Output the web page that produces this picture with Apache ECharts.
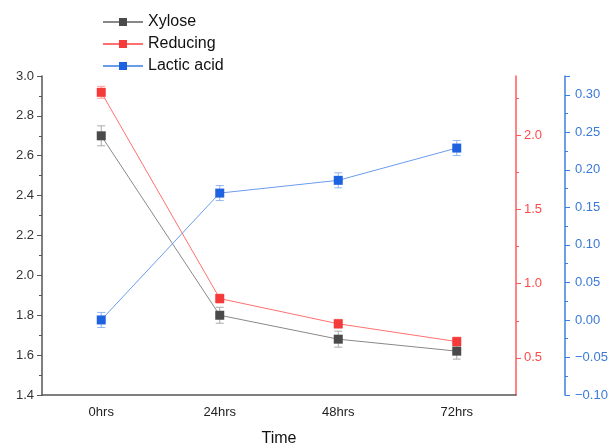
<!DOCTYPE html>
<html><head><meta charset="utf-8">
<script src="https://cdn.jsdelivr.net/npm/echarts@6/dist/echarts.min.js"></script>
<style>html,body{margin:0;padding:0;background:#fff}#c{width:613px;height:448px}</style>
</head><body><div id="c"></div>
<script>
const categories = ['0hrs', '24hrs', '48hrs', '72hrs'];
const xylose = [2.70, 1.80, 1.68, 1.62];
const xyloseErr = [0.05, 0.04, 0.04, 0.04];
const reducing = [2.29, 0.90, 0.73, 0.61];
const reducingErr = [0.04, 0.03, 0.03, 0.03];
const lactic = [0.00, 0.169, 0.186, 0.229];
const lacticErr = [0.01, 0.01, 0.01, 0.01];
const redTicks = [0.5, 1.0, 1.5, 2.0];
const redMinor = [0.75, 1.25, 1.75, 2.25];

const FONT = 'Liberation Sans';
const chart = echarts.init(document.getElementById('c'));

function errSeries(vals, errs, yIdx, color) {
  return {
    type: 'custom', yAxisIndex: yIdx, z: 1, silent: true,
    data: vals.map((v, i) => [i, v, errs[i]]),
    renderItem: function (params, api) {
      const x = api.value(0), v = api.value(1), e = api.value(2);
      const hi = api.coord([x, v + e]);
      const lo = api.coord([x, v - e]);
      const w = 4;
      const st = { stroke: color, lineWidth: 1 };
      return { type: 'group', children: [
        { type: 'line', shape: { x1: hi[0], y1: hi[1], x2: lo[0], y2: lo[1] }, style: st },
        { type: 'line', shape: { x1: hi[0] - w, y1: hi[1], x2: hi[0] + w, y2: hi[1] }, style: st },
        { type: 'line', shape: { x1: lo[0] - w, y1: lo[1], x2: lo[0] + w, y2: lo[1] }, style: st }
      ]};
    }
  };
}

function lineSeries(name, vals, yIdx, lineColor, markColor) {
  return {
    name: name, type: 'line', yAxisIndex: yIdx, data: vals, z: 3,
    symbol: 'rect', symbolSize: 9,
    lineStyle: { color: lineColor, width: 1 },
    itemStyle: { color: markColor },
    color: markColor
  };
}

chart.setOption({
  animation: false,
  textStyle: { fontFamily: FONT },
  grid: { left: 42, right: 97, top: 76, bottom: 53, containLabel: false, outerBoundsMode: 'none' },
  legend: {
    orient: 'vertical', left: 102, top: 14, itemGap: 6, padding: 0,
    itemWidth: 40, itemHeight: 10,
    textStyle: { fontSize: 16, color: '#111', fontFamily: FONT },
    data: ['Xylose', 'Reducing', 'Lactic acid']
  },
  xAxis: [{
    type: 'category', data: categories, boundaryGap: true,
    name: 'Time', nameLocation: 'middle', nameGap: 36,
    nameTextStyle: { fontSize: 16, color: '#111', fontFamily: FONT },
    axisLine: { onZero: false, lineStyle: { color: '#555', width: 1.5 } },
    axisTick: { alignWithLabel: true, length: 5, lineStyle: { color: '#555' } },
    axisLabel: { fontSize: 13, color: '#222', margin: 11, fontFamily: FONT },
    splitLine: { show: false }
  }, {
    type: 'category', data: categories, boundaryGap: true, position: 'bottom',
    axisLine: { show: false, onZero: false },
    axisTick: { length: 3, lineStyle: { color: '#555' } },
    axisLabel: { show: false },
    splitLine: { show: false }
  }],
  yAxis: [{
    type: 'value', min: 1.4, max: 3.0, interval: 0.2, position: 'left',
    axisLine: { show: true, lineStyle: { color: '#555', width: 1.5 } },
    axisTick: { show: true, length: 5, lineStyle: { color: '#555' } },
    minorTick: { show: true, splitNumber: 2, length: 3, lineStyle: { color: '#555' } },
    axisLabel: { fontSize: 13, color: '#333', formatter: v => v.toFixed(1), fontFamily: FONT },
    splitLine: { show: false }
  }, {
    type: 'value', min: 0.25, max: 2.4, position: 'right',
    axisLine: { show: true, lineStyle: { color: '#ff5a5a', width: 1.5 } },
    axisTick: { show: true, length: 5, customValues: redTicks, lineStyle: { color: '#ff5a5a' } },
    axisLabel: { fontSize: 13, color: '#ff4a4a', customValues: redTicks, formatter: v => v.toFixed(1), fontFamily: FONT },
    splitLine: { show: false }
  }, {
    type: 'value', min: 0.25, max: 2.4, position: 'right',
    axisLine: { show: false },
    axisTick: { show: true, length: 3, customValues: redMinor, lineStyle: { color: '#ff5a5a' } },
    axisLabel: { show: false, customValues: redMinor },
    splitLine: { show: false }
  }, {
    type: 'value', min: -0.10, max: 0.325, interval: 0.05, position: 'right', offset: 49,
    axisLine: { show: true, lineStyle: { color: '#3a80e0', width: 1.5 } },
    axisTick: { show: true, length: 5, lineStyle: { color: '#3a80e0' } },
    minorTick: { show: true, splitNumber: 2, length: 3, lineStyle: { color: '#3a80e0' } },
    axisLabel: { fontSize: 13, color: '#3a7ad8', showMaxLabel: false, margin: 10, fontFamily: FONT,
      formatter: v => (Math.abs(v - 0.325) < 1e-6 ? '' : v.toFixed(2).replace('-', '\u2212')) },
    splitLine: { show: false }
  }],
  series: [
    errSeries(xylose, xyloseErr, 0, '#aaaaaa'),
    errSeries(reducing, reducingErr, 1, '#ff9e9e'),
    errSeries(lactic, lacticErr, 3, '#92b6ee'),
    lineSeries('Xylose', xylose, 0, '#888888', '#4a4a4a'),
    lineSeries('Reducing', reducing, 1, '#ff7070', '#f43a3a'),
    lineSeries('Lactic acid', lactic, 3, '#6a9cec', '#1f62e0')
  ]
});
</script></body></html>
